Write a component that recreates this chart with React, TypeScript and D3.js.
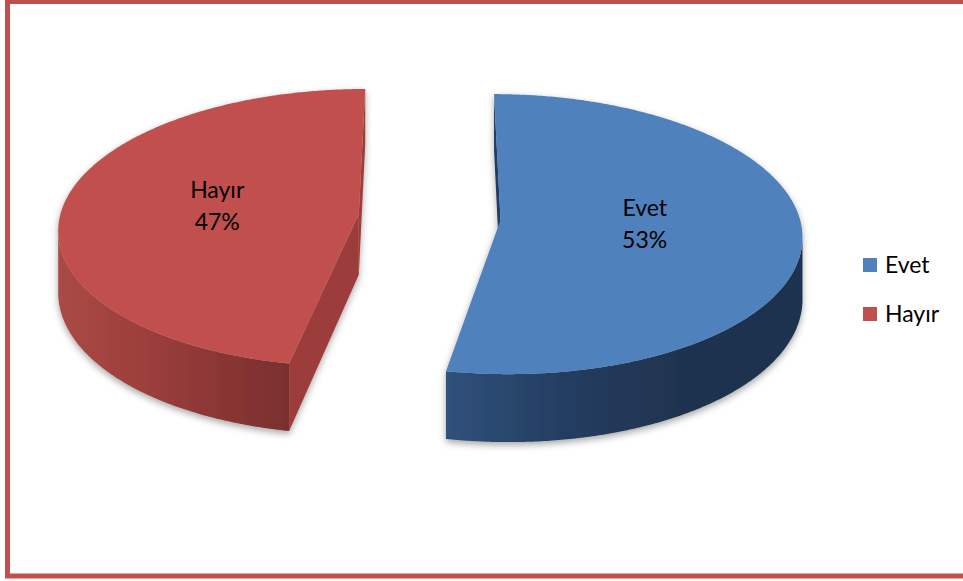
import React from 'react';
import * as d3 from 'd3';

// ---- data ----
const categories: string[] = ['Evet', 'Hayır'];
const values: number[] = [53, 47];
const percentLabels: string[] = ['53%', '47%'];
const topColors: string[] = ['#4F81BD', '#C0504D'];
const sideStops: string[][] = [
  ['#30517b', '#243d60', '#1f334f', '#1f334f'],
  ['#aa4945', '#9e403d', '#8c3735', '#792f2d'],
];
const cutColors: string[] = ['#203b60', '#9c3e3b'];

// ---- geometry ----
const W = 963;
const H = 581;
const CX = 429.5;
const CY = 217;
const RX = 299;
const RY = 138;
const DEPTH = 61;
const PERSP = 0.1;
const EXPLODE = 0.238;
const LABEL_R = 0.48;
const FONT = 'Lato, "Open Sans", "Liberation Sans", sans-serif';

type Pt = [number, number];

function project(X: number, Y: number, h: number): Pt {
  const s = 1 / (1 - PERSP * Y);
  return [CX + X * RX * s, CY + (Y * RY + h * DEPTH) * s];
}

function area(pts: Pt[]): number {
  let a = 0;
  for (let i = 0; i < pts.length; i++) {
    const p = pts[i];
    const q = pts[(i + 1) % pts.length];
    a += p[0] * q[1] - q[0] * p[1];
  }
  return a / 2;
}

const line = d3.line<Pt>();

function sliceGeom(arc: d3.PieArcDatum<number>) {
  const mid = (arc.startAngle + arc.endAngle) / 2;
  const ox = EXPLODE * Math.sin(mid);
  const oy = -EXPLODE * Math.cos(mid);
  const rim = (a: number, h: number) => project(ox + Math.sin(a), oy - Math.cos(a), h);
  const ctr = (h: number) => project(ox, oy, h);
  const span = arc.endAngle - arc.startAngle;
  const n = Math.ceil(span / (Math.PI / 360));
  const angles = d3.range(n + 1).map((k) => arc.startAngle + (span * k) / n);

  const top = line([ctr(0), ...angles.map((a) => rim(a, 0))]) + 'Z';

  // visible side segments
  const vis: number[] = [];
  for (let k = 0; k < n; k++) {
    const q: Pt[] = [rim(angles[k], 0), rim(angles[k + 1], 0), rim(angles[k + 1], 1), rim(angles[k], 1)];
    if (area(q) < 0) vis.push(k);
  }
  let side: string | null = null;
  let sideX: [number, number] = [0, 1];
  if (vis.length) {
    const lo = d3.min(vis)!;
    const hi = d3.max(vis)! + 1;
    const seg = angles.slice(lo, hi + 1);
    const upper = seg.map((a) => rim(a, 0));
    const lower = seg.map((a) => rim(a, 1)).reverse();
    side = line([...upper, ...lower]) + 'Z';
    const xs = upper.map((p) => p[0]);
    sideX = [d3.min(xs)!, d3.max(xs)!];
  }

  const cuts: string[] = [];
  const startFace: Pt[] = [ctr(0), rim(arc.startAngle, 0), rim(arc.startAngle, 1), ctr(1)];
  if (area(startFace) < 0) cuts.push(line(startFace) + 'Z');
  const endFace: Pt[] = [ctr(0), rim(arc.endAngle, 0), rim(arc.endAngle, 1), ctr(1)];
  if (area(endFace) > 0) cuts.push(line(endFace) + 'Z');

  const label = project(ox + LABEL_R * Math.sin(mid), oy - LABEL_R * Math.cos(mid), 0);
  return { top, side, sideX, cuts, label };
}

export default function App() {
  const arcs = d3.pie<number>().sort(null).value((d) => d)(values);
  const color = d3.scaleOrdinal<string, string>().domain(categories).range(topColors);
  const legendY = d3.scalePoint<string>().domain(categories).range([265, 314]);
  const geoms = arcs.map(sliceGeom);

  return (
    <svg
      width={W}
      height={H}
      style={{ position: 'absolute', left: 0, top: 0, background: '#fff' }}
      fontFamily={FONT}
    >
      <defs>
        <filter id="shadow" x="-10%" y="-10%" width="120%" height="130%">
          <feDropShadow dx="0" dy="3" stdDeviation="3.5" floodColor="#000" floodOpacity="0.35" />
        </filter>
        {geoms.map((g, i) => (
          <linearGradient
            key={i}
            id={`side${i}`}
            gradientUnits="userSpaceOnUse"
            x1={g.sideX[0]}
            x2={g.sideX[1]}
            y1={0}
            y2={0}
          >
            {sideStops[i].map((c, j) => (
              <stop key={j} offset={j / (sideStops[i].length - 1)} stopColor={c} />
            ))}
          </linearGradient>
        ))}
      </defs>
      <rect x={0} y={0} width={W} height={H} fill="#fff" />
      <rect x={7.5} y={1.5} width={975} height={574.5} fill="none" stroke="#C0504D" strokeWidth={5} />

      {geoms.map((g, i) => (
        <g key={categories[i]} filter="url(#shadow)">
          {g.side && <path d={g.side} fill={`url(#side${i})`} />}
          {g.cuts.map((c, j) => (
            <path key={j} d={c} fill={cutColors[i]} />
          ))}
          <path d={g.top} fill={color(categories[i])} />
        </g>
      ))}

      {geoms.map((g, i) => (
        <text key={i} textAnchor="middle" fontSize={23} fill="#000">
          <tspan x={g.label[0]} y={g.label[1] - 10}>
            {categories[i]}
          </tspan>
          <tspan x={g.label[0]} y={g.label[1] + 22}>
            {percentLabels[i]}
          </tspan>
        </text>
      ))}

      {categories.map((c) => (
        <g key={c}>
          <rect x={863} y={legendY(c)! - 7} width={14} height={14} fill={color(c)} />
          <text x={885} y={legendY(c)! + 8} fontSize={23} fill="#000">
            {c}
          </text>
        </g>
      ))}
    </svg>
  );
}
